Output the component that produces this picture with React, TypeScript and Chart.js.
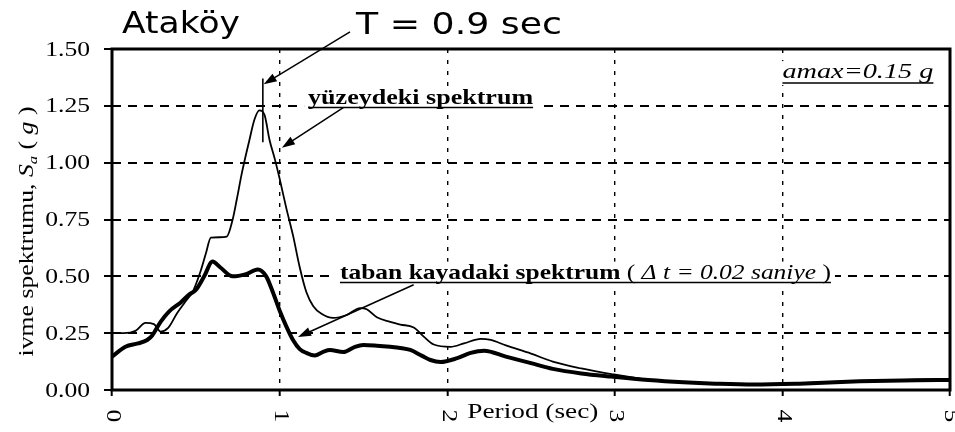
import React, { useEffect, useRef } from "react";
import { Chart, registerables } from "chart.js";

Chart.register(...registerables);

// ---- data ----
const surfacePeriod = [
  0, 0.07, 0.14, 0.2, 0.25, 0.29, 0.335, 0.39, 0.45, 0.48, 0.525, 0.56, 0.59, 0.64, 0.685, 0.72, 0.745,
  0.775, 0.82, 0.85, 0.88, 0.91, 0.94, 0.97, 1.0, 1.04, 1.08, 1.12, 1.16, 1.2, 1.25, 1.32, 1.4, 1.48,
  1.52, 1.58, 1.66, 1.72, 1.8, 1.86, 1.92, 2.02, 2.1, 2.2, 2.26, 2.35, 2.5, 2.63, 2.8, 2.98, 3.2, 3.41,
  3.6, 3.83, 4.1, 4.46, 4.8, 5.0,
];
const surfaceSa = [
  0.25, 0.25, 0.26, 0.295, 0.29, 0.257, 0.273, 0.34, 0.4, 0.43, 0.515, 0.6, 0.67, 0.672, 0.675, 0.75, 0.84,
  0.955, 1.1, 1.19, 1.23, 1.21, 1.1, 1.02, 0.93, 0.8, 0.68, 0.54, 0.43, 0.37, 0.335, 0.317, 0.33, 0.36,
  0.355, 0.32, 0.3, 0.288, 0.275, 0.235, 0.2, 0.19, 0.205, 0.225, 0.22, 0.196, 0.16, 0.125, 0.095, 0.07,
  0.045, 0.033, 0.028, 0.026, 0.03, 0.04, 0.046, 0.048,
];
const bedrockPeriod = [
  0, 0.08, 0.155, 0.21, 0.24, 0.29, 0.34, 0.41, 0.46, 0.5, 0.55, 0.6, 0.645, 0.72, 0.8, 0.87, 0.92, 0.96,
  1.0, 1.04, 1.08, 1.12, 1.16, 1.21, 1.26, 1.3, 1.38, 1.45, 1.5, 1.58, 1.66, 1.72, 1.78, 1.85, 1.9, 1.96,
  2.06, 2.14, 2.22, 2.35, 2.5, 2.63, 2.8, 2.98, 3.2, 3.41, 3.6, 3.83, 4.1, 4.46, 4.8, 5.0,
];
const bedrockSa = [
  0.147, 0.19, 0.205, 0.22, 0.24, 0.3, 0.345, 0.385, 0.42, 0.44, 0.5, 0.565, 0.54, 0.5, 0.51, 0.53, 0.5, 0.43,
  0.35, 0.28, 0.22, 0.18, 0.163, 0.152, 0.168, 0.176, 0.167, 0.19, 0.198, 0.195, 0.19, 0.185, 0.176, 0.15,
  0.132, 0.123, 0.14, 0.163, 0.173, 0.147, 0.118, 0.093, 0.073, 0.059, 0.044, 0.034, 0.028, 0.024, 0.028,
  0.038, 0.043, 0.044,
];

const xTickValues = [0, 1, 2, 3, 4, 5];
const xTickLabels = ["0", "1", "2", "3", "4", "5"];
const yTickValues = [0, 0.25, 0.5, 0.75, 1.0, 1.25, 1.5];
const yTickLabels = ["0.00", "0.25", "0.50", "0.75", "1.00", "1.25", "1.50"];

const stationName = "Ataköy";
const periodNote = "T = 0.9 sec";
const markedPeriod = 0.9;
const surfaceLabel = "yüzeydeki spektrum";
const bedrockLabel = "taban kayadaki spektrum";
const stepNote = "Δ t = 0.02 saniye";
const amaxNote = "amax=0.15 g";
const xTitle = "Period (sec)";
const yTitleMain = "ivme spektrumu, ";

// ---- drawing helpers ----
const SERIF = '"Liberation Serif", "Times New Roman", serif';
const SANS = '"DejaVu Sans", "Verdana", sans-serif';

type Seg = { text: string; font: string; dy?: number };

function runWidth(ctx: CanvasRenderingContext2D, segs: Seg[]) {
  let w = 0;
  for (const s of segs) {
    ctx.font = s.font;
    w += ctx.measureText(s.text).width;
  }
  return w;
}

function drawRun(ctx: CanvasRenderingContext2D, segs: Seg[], x: number, y: number, sx: number) {
  let cx = x;
  for (const s of segs) {
    ctx.font = s.font;
    const w = ctx.measureText(s.text).width;
    ctx.save();
    ctx.translate(cx, y + (s.dy || 0));
    ctx.scale(sx, 1);
    ctx.textAlign = "left";
    ctx.textBaseline = "alphabetic";
    ctx.fillText(s.text, 0, 0);
    ctx.restore();
    cx += w * sx;
  }
  return cx;
}

function fitRun(ctx: CanvasRenderingContext2D, segs: Seg[], x: number, y: number, width: number) {
  const w = runWidth(ctx, segs);
  return drawRun(ctx, segs, x, y, width / w);
}

function arrow(ctx: CanvasRenderingContext2D, x1: number, y1: number, x2: number, y2: number) {
  const ang = Math.atan2(y2 - y1, x2 - x1);
  const len = 13;
  const half = 4.5;
  ctx.save();
  ctx.strokeStyle = "#000";
  ctx.fillStyle = "#000";
  ctx.lineWidth = 1.5;
  ctx.setLineDash([]);
  ctx.beginPath();
  ctx.moveTo(x1, y1);
  ctx.lineTo(x2 - Math.cos(ang) * len * 0.8, y2 - Math.sin(ang) * len * 0.8);
  ctx.stroke();
  ctx.beginPath();
  ctx.moveTo(x2, y2);
  ctx.lineTo(x2 - Math.cos(ang) * len - Math.sin(ang) * half, y2 - Math.sin(ang) * len + Math.cos(ang) * half);
  ctx.lineTo(x2 - Math.cos(ang) * len + Math.sin(ang) * half, y2 - Math.sin(ang) * len - Math.cos(ang) * half);
  ctx.closePath();
  ctx.fill();
  ctx.restore();
}

function underline(ctx: CanvasRenderingContext2D, x1: number, x2: number, y: number) {
  ctx.save();
  ctx.strokeStyle = "#000";
  ctx.lineWidth = 1.5;
  ctx.setLineDash([]);
  ctx.beginPath();
  ctx.moveTo(x1, y);
  ctx.lineTo(x2, y);
  ctx.stroke();
  ctx.restore();
}

function whiteBox(ctx: CanvasRenderingContext2D, x: number, y: number, w: number, h: number) {
  ctx.save();
  ctx.fillStyle = "#fff";
  ctx.fillRect(x, y, w, h);
  ctx.restore();
}

const decorPlugin = {
  id: "decor",
  afterDraw(chart: any) {
    const ctx: CanvasRenderingContext2D = chart.ctx;
    const { left, right, top, bottom } = chart.chartArea;
    const xs = chart.scales.x;
    const ys = chart.scales.y;
    const px = (v: number) => xs.getPixelForValue(v);
    const py = (v: number) => ys.getPixelForValue(v);
    ctx.save();
    ctx.fillStyle = "#000";

    // frame
    ctx.strokeStyle = "#000";
    ctx.setLineDash([]);
    ctx.lineWidth = 3;
    ctx.strokeRect(left, top, right - left, bottom - top);

    // y tick labels
    const tickFont = `21px ${SERIF}`;
    yTickValues.forEach((v, i) => {
      ctx.save();
      ctx.font = tickFont;
      ctx.textAlign = "right";
      ctx.textBaseline = "middle";
      ctx.translate(left - 22, py(v) + 1);
      ctx.scale(1.22, 1);
      ctx.fillText(yTickLabels[i], 0, 0);
      ctx.restore();
    });

    // x tick labels (rotated clockwise)
    xTickValues.forEach((v, i) => {
      ctx.save();
      ctx.font = tickFont;
      ctx.textAlign = "center";
      ctx.textBaseline = "middle";
      ctx.translate(px(v) + 1, bottom + 26);
      ctx.rotate(Math.PI / 2);
      ctx.scale(1.22, 1);
      ctx.fillText(xTickLabels[i], 0, 0);
      ctx.restore();
    });

    // x axis title
    fitRun(ctx, [{ text: xTitle, font: `22px ${SERIF}` }], px(2.12), bottom + 28, 131);

    // y axis title (rotated)
    const ySegs: Seg[] = [
      { text: yTitleMain, font: `20px ${SERIF}` },
      { text: "S", font: `italic 20px ${SERIF}` },
      { text: "a", font: `italic 13px ${SERIF}`, dy: 4 },
      { text: " ( ", font: `20px ${SERIF}` },
      { text: "g", font: `italic 20px ${SERIF}` },
      { text: " )", font: `20px ${SERIF}` },
    ];
    ctx.save();
    ctx.translate(33, (top + bottom) / 2 + 12);
    ctx.rotate(-Math.PI / 2);
    const yLen = 250;
    fitRun(ctx, ySegs, -yLen / 2, 0, yLen);
    ctx.restore();

    // station name and period note
    fitRun(ctx, [{ text: stationName, font: `30px ${SANS}` }], 122, 33, 118);
    fitRun(ctx, [{ text: periodNote, font: `30px ${SANS}` }], 356, 34, 206);

    // T marker and arrow
    ctx.save();
    ctx.strokeStyle = "#000";
    ctx.lineWidth = 1.6;
    ctx.setLineDash([]);
    ctx.beginPath();
    ctx.moveTo(px(markedPeriod), py(1.37));
    ctx.lineTo(px(markedPeriod), py(1.09));
    ctx.stroke();
    ctx.restore();
    arrow(ctx, px(1.42), py(1.575), px(0.905), py(1.345));

    // surface label
    const sx0 = px(1.17);
    const sy0 = py(1.26);
    whiteBox(ctx, sx0 - 4, sy0 - 17, 233, 24);
    const sEnd = fitRun(ctx, [{ text: surfaceLabel, font: `bold 21px ${SERIF}` }], sx0, sy0, 225);
    underline(ctx, sx0, sEnd, sy0 + 4);
    arrow(ctx, px(1.38), py(1.242), px(1.014), py(1.066));

    // bedrock label
    const bx0 = px(1.36);
    const by0 = py(0.49);
    whiteBox(ctx, bx0 - 4, by0 - 17, 499, 24);
    const bSegs: Seg[] = [
      { text: bedrockLabel, font: `bold 21px ${SERIF}` },
      { text: " ( ", font: `21px ${SERIF}` },
      { text: stepNote, font: `italic 21px ${SERIF}` },
      { text: " )", font: `21px ${SERIF}` },
    ];
    const bEnd = fitRun(ctx, bSegs, bx0, by0, 491);
    underline(ctx, bx0, bEnd, by0 + 4);
    arrow(ctx, px(1.8), py(0.463), px(1.11), py(0.233));

    // amax note
    const ax0 = px(4.0);
    const ay0 = py(1.372);
    whiteBox(ctx, ax0 - 2, ay0 - 17, 155, 24);
    const aEnd = fitRun(ctx, [{ text: amaxNote, font: `italic 21px ${SERIF}` }], ax0, ay0, 151);
    underline(ctx, ax0, aEnd, ay0 + 5);

    ctx.restore();
  },
};

export default function App() {
  const ref = useRef<HTMLCanvasElement>(null);
  useEffect(() => {
    document.body.style.margin = "0";
    const canvas = ref.current;
    if (!canvas) return;
    const chart = new Chart(canvas, {
      type: "line",
      data: {
        datasets: [
          {
            label: surfaceLabel,
            data: surfacePeriod.map((t, i) => ({ x: t, y: surfaceSa[i] })),
            borderColor: "#000",
            borderWidth: 1.8,
            pointRadius: 0,
            fill: false,
            cubicInterpolationMode: "monotone",
          },
          {
            label: bedrockLabel,
            data: bedrockPeriod.map((t, i) => ({ x: t, y: bedrockSa[i] })),
            borderColor: "#000",
            borderWidth: 4,
            pointRadius: 0,
            fill: false,
            cubicInterpolationMode: "monotone",
          },
        ],
      },
      options: {
        responsive: false,
        animation: false,
        devicePixelRatio: 1,
        layout: { padding: { top: 49, right: 5, left: 0, bottom: 0 } },
        plugins: { legend: { display: false }, tooltip: { enabled: false }, title: { display: false } },
        scales: {
          x: {
            type: "linear",
            min: 0,
            max: 5,
            afterBuildTicks: (s: any) => {
              s.ticks = xTickValues.map((v) => ({ value: v }));
            },
            afterFit: (s: any) => {
              s.height = 42;
            },
            ticks: { display: false },
            grid: {
              color: "#000",
              lineWidth: 1.4,
              drawTicks: true,
              tickLength: 6,
              tickWidth: 2,
              tickColor: "#000",
              tickBorderDash: [],
            },
            border: { display: false, dash: [4, 7] },
          },
          y: {
            type: "linear",
            min: 0,
            max: 1.5,
            afterBuildTicks: (s: any) => {
              s.ticks = yTickValues.map((v) => ({ value: v }));
            },
            afterFit: (s: any) => {
              s.width = 112;
            },
            ticks: { display: false },
            grid: {
              color: "#000",
              lineWidth: 2,
              drawTicks: true,
              tickLength: 8,
              tickWidth: 2,
              tickColor: "#000",
              tickBorderDash: [],
            },
            border: { display: false, dash: [9, 7] },
          },
        },
      },
      plugins: [decorPlugin],
    } as any);
    return () => chart.destroy();
  }, []);
  return (
    <div style={{ width: 955, height: 432, background: "#fff" }}>
      <canvas ref={ref} width={955} height={432} style={{ display: "block", width: 955, height: 432 }} />
    </div>
  );
}
